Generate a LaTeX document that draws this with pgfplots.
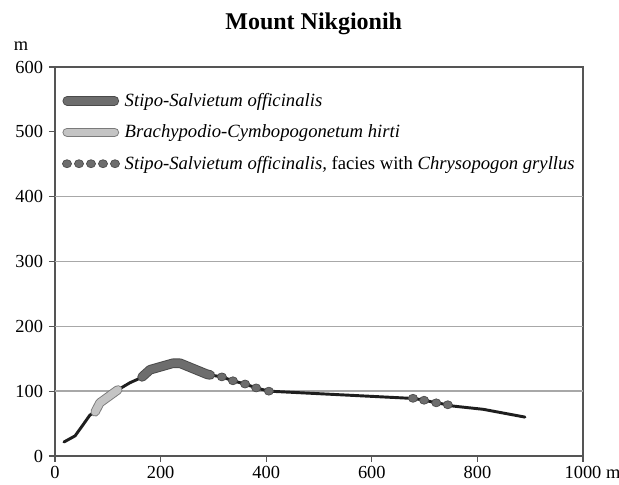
\documentclass[border=0pt]{standalone}
\usepackage{fontspec}
\setmainfont{Liberation Serif}
\usepackage{pgfplots}
\pgfplotsset{compat=1.18}
\definecolor{darkseg}{HTML}{6D6D6D}
\definecolor{darkedge}{HTML}{4A4A4A}
\definecolor{lightseg}{HTML}{C4C4C4}
\definecolor{lightedge}{HTML}{7A7A7A}
\definecolor{profile}{HTML}{1E1E1E}
\definecolor{axisc}{HTML}{555555}
\definecolor{gridc}{HTML}{A8A8A8}
\begin{document}
\begin{tikzpicture}
\begin{axis}[
  name=ax,
  width=396pt, height=291.75pt, scale only axis,
  xmin=0, xmax=1000, ymin=0, ymax=600,
  xtick={0,200,400,600,800,1000},
  xticklabels={0,200,400,600,800,1000\rlap{ m}},
  ytick={0,100,...,600},
  tick align=outside, xtick pos=left, ytick pos=left,
  major tick length=4.5pt,
  tick style={axisc, line width=0.9pt},
  axis line style={axisc, line width=1.4pt},
  extra y ticks={100,200,300,400},
  extra y tick labels={},
  extra y tick style={grid=major, major tick length=0pt},
  grid style={gridc, line width=1.1pt},
  /pgf/number format/assume math mode=true,
  ticklabel style={font=\fontsize{13.8}{15}\selectfont},
  yticklabel style={xshift=-1pt},
  title={Mount Nikgionih},
  title style={font=\fontsize{18}{20}\selectfont\bfseries, at={(0.49,1)}, anchor=base, yshift=22pt},
  ylabel={m}, ylabel style={rotate=-90, at={(rel axis cs:0,1)}, anchor=base, xshift=-25.5pt, yshift=12pt, font=\fontsize{13.8}{15}\selectfont},
  legend style={at={(0.013,0.94)}, anchor=north west, draw=none, fill=none,
    font=\fontsize{14}{16}\selectfont\itshape, row sep=8.3pt, inner sep=0pt,
    cells={anchor=west}},
  legend cell align=left,
]
% full profile
\addplot[profile, line width=2.2pt, line join=round, line cap=round, forget plot] coordinates {
(17,21.6) (38,31) (53,48) (66,63) (76,68) (85,82) (119,102) (142,113) (161,120) (165,122)
(180,133) (223,143) (237,143) (288,126) (294,125) (316,122) (337,116) (360,111) (381,105) (405,100)
(672,89) (678,89) (699,86) (722,82) (744,79) (754,77) (811,72) (890,60)};
% Stipo-Salvietum officinalis segment
\addplot[darkedge, line width=7.2pt, line cap=round, line join=round, forget plot] coordinates {
(165,122) (180,133) (223,143) (237,143) (288,126) (294,125)};
\addplot[darkseg, line width=5.8pt, line cap=round, line join=round, forget plot] coordinates {
(165,122) (180,133) (223,143) (237,143) (288,126) (294,125)};
% Brachypodio segment
\addplot[lightedge, line width=7pt, line cap=round, line join=round, forget plot] coordinates {
(76,68) (85,82) (119,102)};
\addplot[lightseg, line width=5.6pt, line cap=round, line join=round, forget plot] coordinates {
(76,68) (85,82) (119,102)};
% facies dots
\addplot[only marks, mark=*, mark size=3pt, mark options={fill=darkseg, draw=darkedge, line width=0.5pt, xscale=1.15}, forget plot] coordinates {
(316,122) (337,116) (360,111) (381,105) (405,100)
(678,89) (699,86) (722,82) (744,79)};
\addlegendimage{legend image code/.code={
  \draw[darkedge, line width=7pt, line cap=round] (3.5pt,0pt) -- (39pt,0pt);
  \draw[darkseg, line width=5.6pt, line cap=round] (3.5pt,0pt) -- (39pt,0pt);
  \path (44.5pt,0pt);}}
\addlegendentry{Stipo-Salvietum officinalis}
\addlegendimage{legend image code/.code={
  \draw[lightedge, line width=7pt, line cap=round] (3.5pt,0pt) -- (39pt,0pt);
  \draw[lightseg, line width=5.6pt, line cap=round] (3.5pt,0pt) -- (39pt,0pt);
  \path (44.5pt,0pt);}}
\addlegendentry{Brachypodio-Cymbopogonetum hirti}
\addlegendimage{legend image code/.code={
  \foreach \i in {0,1,2,3,4} {\filldraw[fill=darkseg, draw=darkedge, line width=0.5pt] (3.4pt+\i*9pt,0pt) ellipse (3.4pt and 3pt);}
  \path (44.5pt,0pt);}}
\addlegendentry{Stipo-Salvietum officinalis, {\upshape facies with} Chrysopogon gryllus}
\end{axis}
\pgfresetboundingbox
\path ([shift={(-41.25pt,-21.75pt)}]ax.south west) rectangle ([shift={(27pt,50.25pt)}]ax.north east);
\end{tikzpicture}
\end{document}
